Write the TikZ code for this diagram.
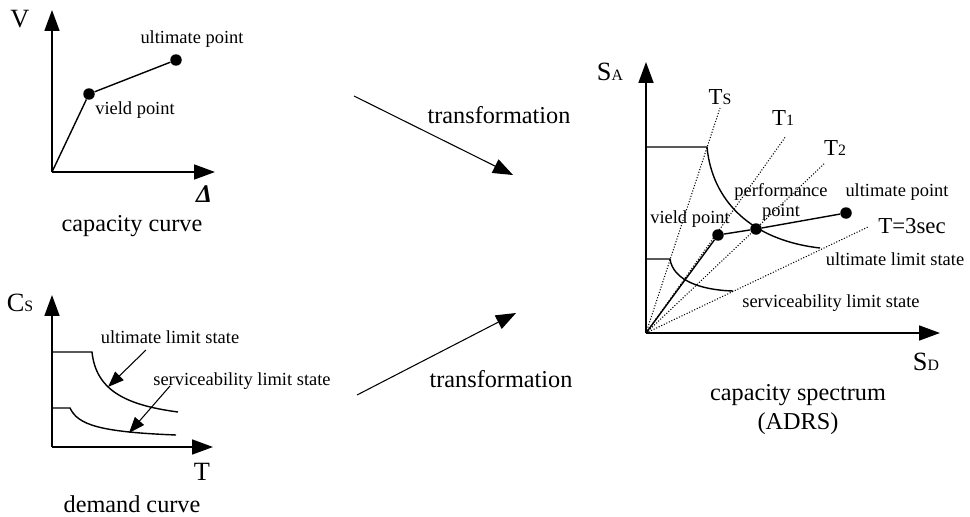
\documentclass[tikz,border=0pt]{standalone}
\usepackage{fontspec}
\setmainfont{Liberation Serif}
\usetikzlibrary{positioning,arrows.meta}
\newcommand\smallsub[1]{{\fontsize{9}{9}\selectfont #1}}

\begin{document}
\begin{tikzpicture}[
  x=0.02cm, y=-0.02cm,
  captxt/.style={font=\fontsize{13.8}{16}\selectfont, inner sep=0pt},
  lbl/.style={font=\fontsize{10.5}{12}\selectfont, inner sep=0pt},
  axlbl/.style={font=\fontsize{15}{18}\selectfont, inner sep=0pt},
  tlbl/.style={font=\fontsize{13}{15}\selectfont, inner sep=0pt},
  axisline/.style={line width=1pt, -{Triangle[length=4.2mm,width=3mm]}},
  curveline/.style={line width=0.8pt},
  period/.style={densely dotted, line width=0.6pt},
  dot/.style={circle, fill, inner sep=0pt, minimum size=2.3mm},
  trans/.style={line width=0.6pt, -{Triangle[length=4mm,width=3mm]}},
  ptr/.style={line width=0.6pt, -{Triangle[length=3.2mm,width=2.4mm]}}
]
\useasboundingbox (0,0) rectangle (970,517);

% =========================================================
% CAPACITY CURVE (top left)
% =========================================================

\coordinate (O1) at (52,172);
\coordinate (V1) at (52,10);
\coordinate (D1) at (215,172);

\draw[axisline] (O1) -- (V1);
\draw[axisline] (O1) -- (D1);

\node[axlbl] (vlab) at (20,19) {V};
\node[inner sep=0pt, font=\fontsize{14.5}{16}\selectfont\bfseries\itshape]
  (dlab) at (204,194) {Δ};

\node[dot] (yld1) at (89,94) {};
\node[dot] (ult1) at (176,60) {};
\draw[curveline] (O1) -- (yld1) -- (ult1);

\node[lbl] (yldlab1) at (135,110) {vield point};
\node[lbl] (ultlab1) at (192,39) {ultimate point};

\node[captxt] (capcurve) at (132,226) {capacity curve};

% =========================================================
% DEMAND CURVE (bottom left)
% =========================================================

\coordinate (O2) at (52,447);
\coordinate (C2) at (52,295);
\coordinate (T2) at (213,447);

\draw[axisline] (O2) -- (C2);
\draw[axisline] (O2) -- (T2);

\node[axlbl] (cslab) at (20,303) {C\smallsub{S}};
\node[axlbl] (tlab) at (202,472) {T};

\draw[curveline] (52,352) -- (92,352) .. controls (96,390) and (125,405) .. (178,412);
\draw[curveline] (52,408) -- (70,408) .. controls (78,425) and (100,432) .. (176,435);

\node[lbl] (ulslab) at (170,337) {ultimate limit state};
\node[lbl] (slslab) at (242,381) {serviceability limit state};

\coordinate (ulsfrom) at (146,350);
\coordinate (ulstip) at (108,387);
\coordinate (slsfrom) at (170,386);
\coordinate (slstip) at (129,433);
\draw[ptr] (ulsfrom) -- (ulstip);
\draw[ptr] (slsfrom) -- (slstip);

\node[captxt] (demcurve) at (132,504) {demand curve};

% =========================================================
% TRANSFORMATIONS
% =========================================================

\coordinate (tr1s) at (354,96);
\coordinate (tr1e) at (513,175);
\draw[trans] (tr1s) -- (tr1e);
\node[captxt] (trlab1) at (499,115) {transformation};

\coordinate (tr2s) at (357,395);
\coordinate (tr2e) at (516,313);
\draw[trans] (tr2s) -- (tr2e);
\node[captxt] (trlab2) at (501,379) {transformation};

% =========================================================
% CAPACITY SPECTRUM (right)
% =========================================================

\coordinate (O3) at (646,333);
\coordinate (SA3) at (646,62);
\coordinate (SD3) at (940,333);

\draw[axisline] (O3) -- (SA3);
\draw[axisline] (O3) -- (SD3);

\node[axlbl] (salab) at (610,72) {S\smallsub{A}};
\node[axlbl] (sdlab) at (926,362) {S\smallsub{D}};

% period lines
\coordinate (ts) at (720,108);
\coordinate (t1) at (786,136);
\coordinate (t2) at (825,163);
\coordinate (t3) at (868,227);
\draw[period] (O3) -- (ts);
\draw[period] (O3) -- (t1);
\draw[period] (O3) -- (t2);
\draw[period] (O3) -- (t3);

\node[tlbl] (tslab) at (720,97) {T\smallsub{S}};
\node[tlbl] (t1lab) at (783,118) {T\smallsub{1}};
\node[tlbl] (t2lab) at (835,148) {T\smallsub{2}};
\node[tlbl] (t3lab) at (912,226) {T=3sec};

% demand spectra
\draw[curveline] (646,147) -- (707,147) .. controls (712,200) and (750,240) .. (820,248);
\draw[curveline] (646,259) -- (670,259) .. controls (673,280) and (700,290) .. (733,291);

% capacity spectrum
\node[dot] (yld3) at (718,235) {};
\node[dot] (perf3) at (756,229) {};
\node[dot] (ult3) at (846,213) {};
\draw[curveline] (O3) -- (yld3) -- (perf3) -- (ult3);

\node[lbl] (yldlab3) at (690,219) {vield point};
\node[lbl] (perflab) at (781,192) {performance};
\node[lbl, below=2pt of perflab] (pointlab) {point};
\node[lbl] (ultlab3) at (897,192) {ultimate point};
\node[lbl] (ulslab3) at (895,259) {ultimate limit state};
\node[lbl] (slslab3) at (831,303) {serviceability limit state};

\node[captxt] (capspec) at (798,395) {capacity spectrum};
\node[captxt, below=3.5pt of capspec] (adrs) {(ADRS)};

\end{tikzpicture}
\end{document}
